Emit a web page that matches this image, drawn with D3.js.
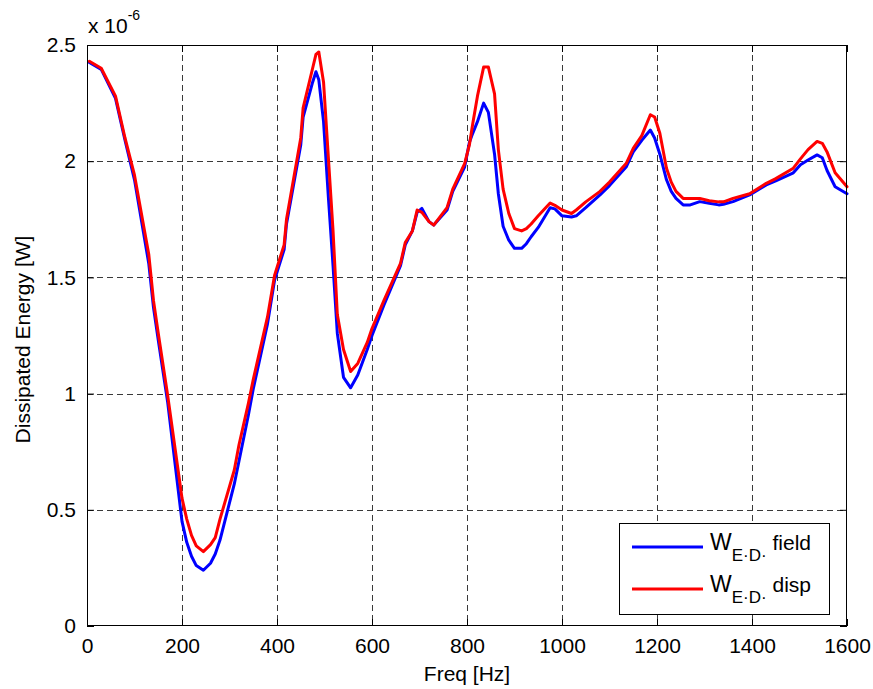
<!DOCTYPE html>
<html>
<head>
<meta charset="utf-8">
<script src="https://cdn.jsdelivr.net/npm/d3@7"></script>
<style>
  html, body { margin: 0; padding: 0; background: #fff; }
  svg { display: block; }
  text { font-family: "Liberation Sans", Arial, Helvetica, sans-serif; fill: #000; }
</style>
</head>
<body>
<svg id="chart" width="873" height="689"></svg>
<script>
// Frequency samples [Hz]
const freq = [5, 30, 60, 80, 100, 130, 140, 150, 170, 200, 210, 220, 230, 245, 260, 270, 280, 310, 320, 340,
  350, 380, 395, 415, 420, 450, 455, 475, 482, 488, 498, 508, 518, 527, 540, 555, 570, 590, 600, 625,
  660, 670, 685, 695, 705, 720, 730, 758, 770, 795, 805, 812, 822, 835, 845, 858, 866, 876, 888, 900,
  915, 925, 935, 950, 975, 985, 1000, 1020, 1030, 1050, 1080, 1100, 1135, 1150, 1168, 1186, 1195, 1206, 1220, 1230,
  1240, 1255, 1270, 1290, 1310, 1330, 1340, 1360, 1395, 1430, 1450, 1487, 1502, 1518, 1537, 1548, 1558, 1575, 1600];

// Dissipated energy, field formulation [x 1e-6 W]
const wField = [2.425, 2.395, 2.27, 2.09, 1.92, 1.56, 1.37, 1.23, 0.96, 0.45, 0.36, 0.30, 0.26, 0.24, 0.27, 0.31, 0.37, 0.61, 0.71, 0.91,
  1.02, 1.30, 1.49, 1.62, 1.73, 2.07, 2.19, 2.34, 2.385, 2.35, 2.17, 1.85, 1.55, 1.26, 1.07, 1.025, 1.08, 1.19, 1.25, 1.38,
  1.55, 1.64, 1.70, 1.78, 1.797, 1.74, 1.725, 1.79, 1.87, 1.975, 2.08, 2.12, 2.17, 2.25, 2.21, 2.03, 1.86, 1.72, 1.66, 1.625,
  1.625, 1.645, 1.675, 1.715, 1.80, 1.795, 1.765, 1.76, 1.765, 1.80, 1.855, 1.895, 1.975, 2.04, 2.09, 2.134, 2.10, 2.03, 1.92, 1.87,
  1.84, 1.812, 1.812, 1.826, 1.819, 1.812, 1.815, 1.826, 1.855, 1.898, 1.915, 1.95, 1.985, 2.005, 2.027, 2.015, 1.96, 1.89, 1.86];

// Dissipated energy, displacement formulation [x 1e-6 W]
const wDisp = [2.43, 2.40, 2.28, 2.10, 1.94, 1.60, 1.40, 1.26, 0.99, 0.55, 0.46, 0.39, 0.345, 0.32, 0.35, 0.38, 0.46, 0.67, 0.78, 0.96,
  1.06, 1.33, 1.51, 1.64, 1.75, 2.10, 2.23, 2.40, 2.46, 2.47, 2.34, 2.02, 1.70, 1.34, 1.19, 1.095, 1.13, 1.22, 1.28, 1.40,
  1.56, 1.65, 1.70, 1.79, 1.78, 1.74, 1.725, 1.80, 1.88, 1.99, 2.07, 2.16, 2.28, 2.405, 2.405, 2.29, 2.05, 1.88, 1.775, 1.71,
  1.70, 1.71, 1.73, 1.765, 1.82, 1.81, 1.79, 1.775, 1.79, 1.825, 1.87, 1.91, 1.99, 2.055, 2.11, 2.20, 2.19, 2.12, 1.97, 1.91,
  1.87, 1.84, 1.84, 1.84, 1.83, 1.825, 1.825, 1.84, 1.86, 1.905, 1.925, 1.97, 2.01, 2.05, 2.085, 2.077, 2.04, 1.95, 1.89];

const xTicks = [0, 200, 400, 600, 800, 1000, 1200, 1400, 1600];
const yTicks = [0, 0.5, 1, 1.5, 2, 2.5];

const svg = d3.select("#chart");
const plot = { left: 87, top: 45, right: 847, bottom: 626 };

const x = d3.scaleLinear().domain([0, 1600]).range([plot.left, plot.right]);
const y = d3.scaleLinear().domain([0, 2.5]).range([plot.bottom, plot.top]);

svg.append("rect").attr("width", 873).attr("height", 689).attr("fill", "#fff");

// Dashed grid
const grid = svg.append("g").attr("stroke", "#3a3a3a").attr("stroke-width", 1)
  .attr("stroke-dasharray", "6,4").attr("fill", "none");
grid.selectAll("line.gx").data(xTicks.slice(1, -1)).join("line")
  .attr("x1", d => Math.round(x(d)) + 0.5).attr("x2", d => Math.round(x(d)) + 0.5)
  .attr("y1", plot.top).attr("y2", plot.bottom);
grid.selectAll("line.gy").data(yTicks.slice(1)).join("line")
  .attr("y1", d => Math.round(y(d)) + 0.5).attr("y2", d => Math.round(y(d)) + 0.5)
  .attr("x1", plot.left).attr("x2", plot.right);

// Axes with inward ticks on all four sides
const tickLen = 7;
const fmt = d => String(d);
const axisBottom = d3.axisBottom(x).tickValues(xTicks).tickSizeInner(-tickLen).tickSizeOuter(0).tickPadding(12).tickFormat(fmt);
const axisTop = d3.axisTop(x).tickValues(xTicks).tickSizeInner(-tickLen).tickSizeOuter(0).tickFormat("");
const axisLeft = d3.axisLeft(y).tickValues(yTicks).tickSizeInner(-tickLen).tickSizeOuter(0).tickPadding(11).tickFormat(fmt);
const axisRight = d3.axisRight(y).tickValues(yTicks).tickSizeInner(-tickLen).tickSizeOuter(0).tickFormat("");

function styleAxis(g) {
  g.select(".domain").remove();
  g.selectAll("line").attr("stroke", "#000");
  g.selectAll("text").attr("font-size", 21).attr("font-family", "Liberation Sans, Arial, sans-serif").attr("fill", "#000");
}
svg.append("g").attr("transform", `translate(0,${plot.bottom})`).call(axisBottom).call(styleAxis);
svg.append("g").attr("transform", `translate(0,${plot.top})`).call(axisTop).call(styleAxis);
svg.append("g").attr("transform", `translate(${plot.left},0)`).call(axisLeft).call(styleAxis);
svg.append("g").attr("transform", `translate(${plot.right},0)`).call(axisRight).call(styleAxis);

// Curves
const lineGen = d3.line().x((d, i) => x(freq[i])).y(d => y(d));
const series = [
  { values: wField, color: "#0000ff", name: "field" },
  { values: wDisp, color: "#ff0000", name: "disp" }
];
svg.append("g").selectAll("path").data(series).join("path")
  .attr("d", s => lineGen(s.values))
  .attr("fill", "none").attr("stroke", s => s.color).attr("stroke-width", 3)
  .attr("stroke-linejoin", "round").attr("stroke-linecap", "round");

// Plot box
svg.append("rect")
  .attr("x", plot.left + 0.5).attr("y", plot.top + 0.5)
  .attr("width", plot.right - plot.left - 1).attr("height", plot.bottom - plot.top - 1)
  .attr("fill", "none").attr("stroke", "#000").attr("stroke-width", 1);

// Exponent label
const expo = svg.append("text").attr("x", 88).attr("y", 33).attr("font-size", 21);
expo.append("tspan").text("x 10");
expo.append("tspan").attr("font-size", 14).attr("dy", -13).text("-6");

// Axis labels
svg.append("text").attr("x", (plot.left + plot.right) / 2).attr("y", 681)
  .attr("text-anchor", "middle").attr("font-size", 21).text("Freq [Hz]");
svg.append("text").attr("transform", `translate(30,${(plot.top + plot.bottom) / 2 + 4}) rotate(-90)`)
  .attr("text-anchor", "middle").attr("font-size", 21).text("Dissipated Energy [W]");

// Legend
const legend = svg.append("g");
legend.append("rect").attr("x", 619.5).attr("y", 523.5).attr("width", 210).attr("height", 91)
  .attr("fill", "#fff").attr("stroke", "#000").attr("stroke-width", 1);
const rowY = [547, 589];
series.forEach((s, i) => {
  legend.append("line").attr("x1", 632).attr("x2", 703).attr("y1", rowY[i]).attr("y2", rowY[i])
    .attr("stroke", s.color).attr("stroke-width", 3);
  const t = legend.append("text").attr("x", 710).attr("y", rowY[i] + 3).attr("font-size", 23);
  t.append("tspan").text("W");
  t.append("tspan").attr("font-size", 17).attr("dy", 11).text("E·D·");
  t.append("tspan").attr("font-size", 21).attr("dy", -11).text(" " + s.name);
});
</script>
</body>
</html>
